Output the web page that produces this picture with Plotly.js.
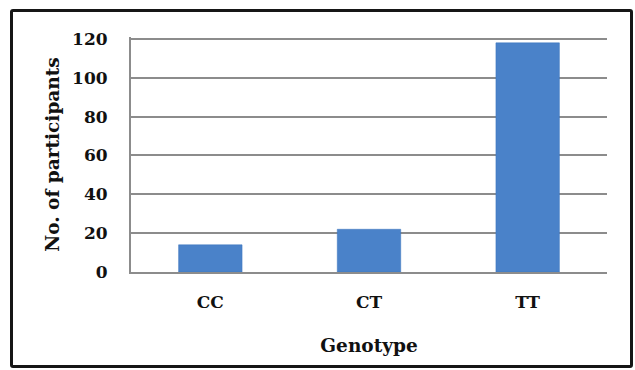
<!DOCTYPE html>
<html>
<head>
<meta charset="utf-8">
<script src="https://cdn.plot.ly/plotly-3.0.1.min.js"></script>
<style>
  html, body { margin: 0; padding: 0; background: #fff; }
  #wrap { position: relative; width: 635px; height: 370px; }
  #chart { width: 635px; height: 370px; }
  #frame { position: absolute; left: 10px; top: 9px; width: 623px; height: 359px;
           box-sizing: border-box; border: 3px solid #161616; border-radius: 3px; pointer-events: none; }
</style>
</head>
<body>
<div id="wrap">
  <div id="chart"></div>
  <div id="frame"></div>
</div>
<script>
const genotypes = ["CC", "CT", "TT"];
const participants = [14, 22, 118];
const yTicks = [0, 20, 40, 60, 80, 100, 120];

const font = "'DejaVu Serif', 'Liberation Serif', serif";

const trace = {
  type: "bar",
  x: genotypes,
  y: participants,
  marker: { color: "#4a82c9", line: { color: "#3a74bd", width: 0.5 } },
  hoverinfo: "none"
};

const layout = {
  width: 635, height: 370,
  margin: { l: 131, r: 28, t: 37, b: 98 },
  paper_bgcolor: "#ffffff",
  plot_bgcolor: "#ffffff",
  bargap: 0.6,
  showlegend: false,
  xaxis: {
    type: "category",
    showgrid: false,
    showline: true, linecolor: "#8c8c8c", linewidth: 2,
    ticks: "", ticklabelstandoff: 14,
    tickfont: { family: font, size: 17, color: "#111", weight: "bold" },
    title: { text: "<b>Genotype</b>", font: { family: font, size: 18.5, color: "#111" }, standoff: 28 }
  },
  yaxis: {
    range: [0, 121],
    tickvals: yTicks,
    ticktext: yTicks.map(String),
    showgrid: true, gridcolor: "#8c8c8c", gridwidth: 2,
    zeroline: false,
    showline: true, linecolor: "#8c8c8c", linewidth: 2,
    ticks: "", ticklabelstandoff: 18,
    tickfont: { family: font, size: 17, color: "#111", weight: "bold" },
    title: { text: "<b>No. of participants</b>", font: { family: font, size: 18.5, color: "#111" }, standoff: 8 }
  }
};

Plotly.newPlot("chart", [trace], layout, { staticPlot: true, displayModeBar: false });
</script>
</body>
</html>
